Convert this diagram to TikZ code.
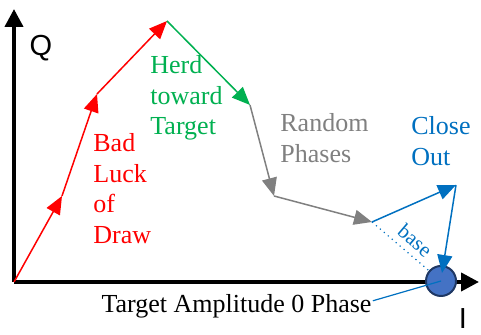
\documentclass[tikz,border=0pt]{standalone}
\usepackage{fontspec}
\setmainfont{Liberation Serif}
\newfontfamily\labelfont{Liberation Serif}
\newfontfamily\axisfont{Liberation Sans}
\usetikzlibrary{arrows.meta}

\definecolor{drawred}{RGB}{255,0,0}
\definecolor{herdgreen}{RGB}{0,176,80}
\definecolor{phasegray}{RGB}{128,128,128}
\definecolor{closeblue}{RGB}{0,112,192}
\definecolor{tgtfill}{RGB}{68,114,196}
\definecolor{tgtedge}{RGB}{31,56,100}

\tikzset{
  axis/.style={line width=2pt,-{Triangle[length=9pt,width=9pt]}},
  walk/.style={line width=0.75pt,-{Triangle[length=9pt,width=7.5pt]}},
  lbl/.style={font=\labelfont\fontsize{13}{15.3}\selectfont,align=left,inner sep=0pt,anchor=north west}
}

\begin{document}
\begin{tikzpicture}[x=0.5pt,y=0.5pt]
\useasboundingbox (0,0) rectangle (481,335);

% Axes
\coordinate (O) at (14,53);
\coordinate (qtop) at (14,326);
\coordinate (iend) at (479,53);
\draw[axis] (O) -- (qtop);
\draw[axis] (O) -- (iend);
\node[font=\axisfont\fontsize{14.5}{16}\selectfont] (qlab) at (41,287) {Q};
\node[font=\axisfont\fontsize{14.5}{16}\selectfont] (ilab) at (463,16) {I};

% Target
\node[circle,fill=tgtfill,draw=tgtedge,line width=1pt,minimum size=15pt,inner sep=0pt] (tgt) at (441,54) {};
\node[font=\labelfont\fontsize{13}{15.3}\selectfont,anchor=base,inner sep=0pt] (tgtlab) at (236.5,22) {Target Amplitude 0 Phase};
\draw[closeblue,line width=0.6pt] (tgtlab.east) ++(1,6) -- (tgt.center);

% Bad luck of draw
\coordinate (r1) at (62,139);
\coordinate (r2) at (97,241);
\coordinate (peak) at (167,314);
\draw[walk,drawred] (O) -- (r1);
\draw[walk,drawred] (r1) -- (r2);
\draw[walk,drawred] (r2) -- (peak);
\node[lbl,drawred] (badlab) at (93,202) {Bad\\Luck\\of\\Draw};

% Herd toward target
\coordinate (g1) at (250,230);
\draw[walk,herdgreen] (peak) -- (g1);
\node[lbl,herdgreen] (herdlab) at (150,280) {Herd\\toward\\Target};

% Random phases
\coordinate (p1) at (274,139);
\coordinate (p2) at (372,113);
\draw[walk,phasegray] (g1) -- (p1);
\draw[walk,phasegray] (p1) -- (p2);
\node[lbl,phasegray] (randlab) at (280,222) {Random\\Phases};

% Close out
\coordinate (c1) at (456,150);
\coordinate (c2) at (442,62);
\draw[walk,closeblue] (p2) -- (c1);
\draw[walk,closeblue] (c1) -- (c2);
\draw[closeblue,dotted,line width=0.6pt] (p2) -- (tgt)
  node[pos=0.6,sloped,above,font=\labelfont\fontsize{10.5}{12}\selectfont,inner sep=3pt] {base};
\node[lbl,closeblue] (closelab) at (411,219) {Close\\Out};
\end{tikzpicture}
\end{document}
